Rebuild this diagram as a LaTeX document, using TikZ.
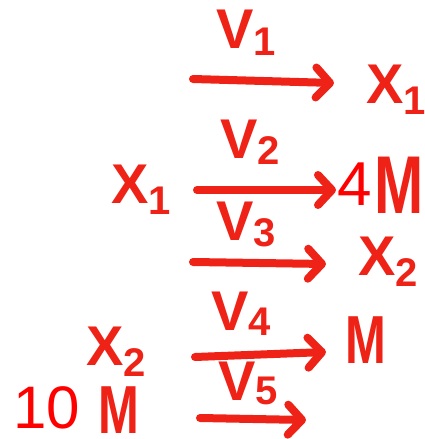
\documentclass[tikz,border=0pt]{standalone}
\usepackage{fontspec}
\usepackage{graphicx}
\setmainfont{Liberation Sans}
\usetikzlibrary{arrows.meta}
\definecolor{hand}{RGB}{238,34,22}
\definecolor{typed}{RGB}{255,0,0}
\newcommand{\hsub}[2][11pt]{\raisebox{-#1}{\fontsize{40}{40}\selectfont #2}}
\newcommand{\bigM}[1]{\scalebox{0.72}[1]{\fontsize{#1}{#1}\selectfont M}}
\tikzset{
  hw/.style={text=hand, inner sep=0pt, anchor=base west, font=\fontsize{56}{56}\selectfont\bfseries},
  tp/.style={text=typed, inner sep=0pt, anchor=base west, font=\fontsize{62}{62}\selectfont},
  rxn/.style={draw=hand, line width=8pt, line cap=round,
    -{Straight Barb[length=14pt,width=30pt,line width=8pt,round]}}
}
\begin{document}
\begin{tikzpicture}[x=1pt,y=-1pt]
\useasboundingbox (0,0) rectangle (425,439);
% labels
\node[hw] (v1) at (216,48) {V\hsub[7pt]{1}};
\node[hw] (xr1) at (366,103) {X\hsub{1}};
\node[hw] (v2) at (220,158) {V\hsub[6pt]{2}};
\node[hw] (xl1) at (111,203) {X\hsub{1}};
\node[tp] (four) at (337,205) {4};
\node[hw] (m1) at (374,213) {\bigM{82}};
\node[hw] (v3) at (216,240) {V\hsub[6pt]{3}};
\node[hw] (xr2) at (358,275) {X\hsub{2}};
\node[hw] (v4) at (211,330) {V\hsub[5pt]{4}};
\node[hw] (xl2) at (86,365) {X\hsub{2}};
\node[hw] (m2) at (345,363) {\bigM{68}};
\node[hw] (v5) at (218,400) {V\hsub[4pt]{5}};
\node[tp, font=\fontsize{60}{60}\selectfont] (ten) at (13,428) {10};
\node[hw] (m3) at (98,433) {\bigM{68}};
% arrow end points
\coordinate (a1s) at (193,79);  \coordinate (a1e) at (334,83);
\coordinate (a2s) at (197,190); \coordinate (a2e) at (336,190);
\coordinate (a3s) at (193,262); \coordinate (a3e) at (326,264);
\coordinate (a4s) at (195,357); \coordinate (a4e) at (326,352);
\coordinate (a5s) at (200,418); \coordinate (a5e) at (306,420);
\draw[rxn] (a1s) -- (a1e);
\draw[rxn] (a2s) -- (a2e);
\draw[rxn] (a3s) -- (a3e);
\draw[rxn] (a4s) -- (a4e);
\draw[rxn] (a5s) -- (a5e);
\end{tikzpicture}
\end{document}
